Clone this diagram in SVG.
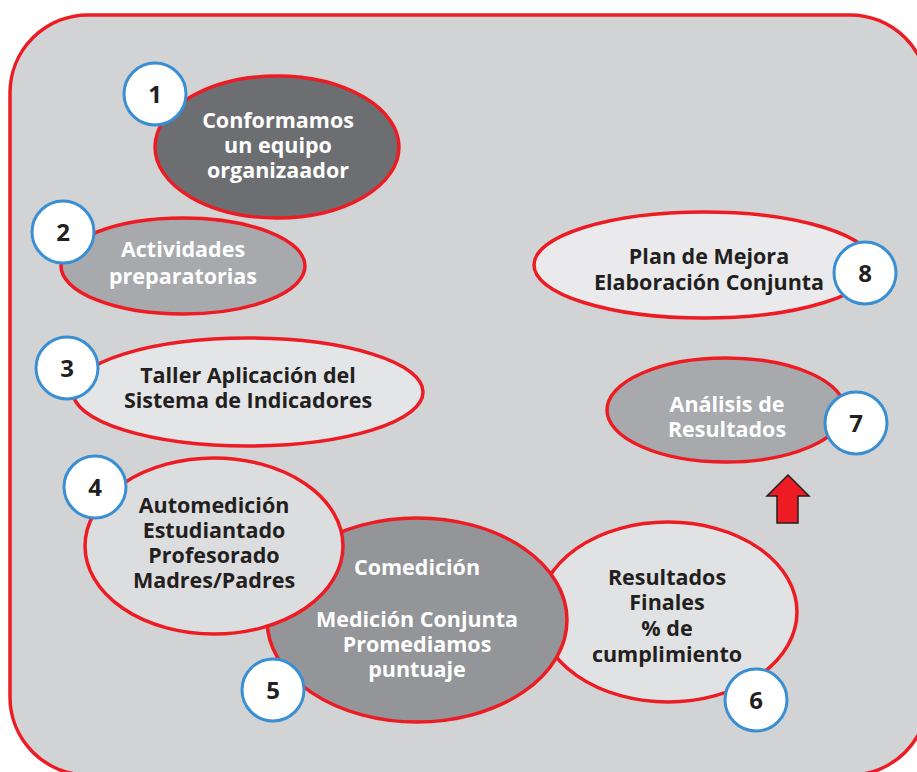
<svg xmlns="http://www.w3.org/2000/svg" width="917" height="772" viewBox="0 0 917 772">
<style>
.el{stroke:#ED1C24;stroke-width:3.5}
.num circle{fill:#fff;stroke:#3A8FD3;stroke-width:3}
.num text{font-family:"Open Sans","Liberation Sans",sans-serif;font-weight:bold;font-size:24px;fill:#231F20;text-anchor:middle}
.t{font-family:"Open Sans","Liberation Sans",sans-serif;font-weight:bold;font-size:21.5px;text-anchor:middle}
.w{fill:#fff}
.d{fill:#231F20}
</style>
<rect x="0" y="0" width="917" height="772" fill="#fff"/>
<rect id="frame" x="10" y="15" width="918" height="760" rx="78" ry="78" fill="#D1D3D4" stroke="#ED1C24" stroke-width="3.5"/>
<g id="connectors">
<path d="M788,475 L809,496 L798,496 L798,523 L777,523 L777,496 L767,496 Z" fill="#ED1C24" stroke="#231F20" stroke-width="1.5" stroke-linejoin="miter"/>
</g>
<g id="node1">
<ellipse class="el" cx="277" cy="147" rx="122" ry="71" fill="#6D6E71"/>
<text class="t w"><tspan x="278" y="128">Conformamos</tspan><tspan x="278" y="153">un equipo</tspan><tspan x="278" y="178">organizaador</tspan></text>
<g class="num"><circle cx="155" cy="94" r="31"/><text x="155" y="103">1</text></g>
</g>
<g id="node2">
<ellipse class="el" cx="183" cy="266" rx="122" ry="48" fill="#A7A9AC"/>
<text class="t w"><tspan x="183" y="257">Actividades</tspan><tspan x="183" y="284">preparatorias</tspan></text>
<g class="num"><circle cx="63" cy="232" r="31"/><text x="63" y="241">2</text></g>
</g>
<g id="node3">
<ellipse class="el" cx="248" cy="392" rx="175" ry="54" fill="#E4E5E6"/>
<text class="t d"><tspan x="248" y="383">Taller Aplicación del</tspan><tspan x="248" y="408">Sistema de Indicadores</tspan></text>
<g class="num"><circle cx="67" cy="368" r="31"/><text x="67" y="377">3</text></g>
</g>
<g id="node8">
<ellipse class="el" cx="704" cy="265" rx="170" ry="53" fill="#EAEAEC"/>
<text class="t d"><tspan x="709" y="264">Plan de Mejora</tspan><tspan x="709" y="290">Elaboración Conjunta</tspan></text>
<g class="num"><circle cx="865" cy="273" r="31"/><text x="865" y="282">8</text></g>
</g>
<g id="node7">
<ellipse class="el" cx="726" cy="410" rx="119" ry="52" fill="#A7A9AC"/>
<text class="t w"><tspan x="727" y="412">Análisis de</tspan><tspan x="727" y="437">Resultados</tspan></text>
<g class="num"><circle cx="856" cy="423" r="31"/><text x="856" y="432">7</text></g>
</g>
<g id="node6">
<ellipse class="el" cx="668" cy="612" rx="129" ry="90" fill="#E1E2E3"/>
<text class="t d"><tspan x="667" y="585">Resultados</tspan><tspan x="667" y="610">Finales</tspan><tspan x="667" y="636">% de</tspan><tspan x="667" y="662">cumplimiento</tspan></text>
<g class="num"><circle cx="756" cy="700" r="31"/><text x="756" y="709">6</text></g>
</g>
<g id="node5">
<ellipse class="el" cx="417" cy="620" rx="150" ry="102" fill="#939598"/>
<text class="t w"><tspan x="417" y="575">Comedición</tspan><tspan x="417" y="627">Medición Conjunta</tspan><tspan x="417" y="652">Promediamos</tspan><tspan x="417" y="677">puntuaje</tspan></text>
<g class="num"><circle cx="273" cy="690" r="31"/><text x="273" y="699">5</text></g>
</g>
<g id="node4">
<ellipse class="el" cx="214" cy="546" rx="129" ry="88" fill="#DCDDDE"/>
<text class="t d"><tspan x="214" y="513">Automedición</tspan><tspan x="214" y="538">Estudiantado</tspan><tspan x="214" y="563">Profesorado</tspan><tspan x="214" y="588">Madres/Padres</tspan></text>
<g class="num"><circle cx="95" cy="487" r="31"/><text x="95" y="496">4</text></g>
</g>
</svg>
